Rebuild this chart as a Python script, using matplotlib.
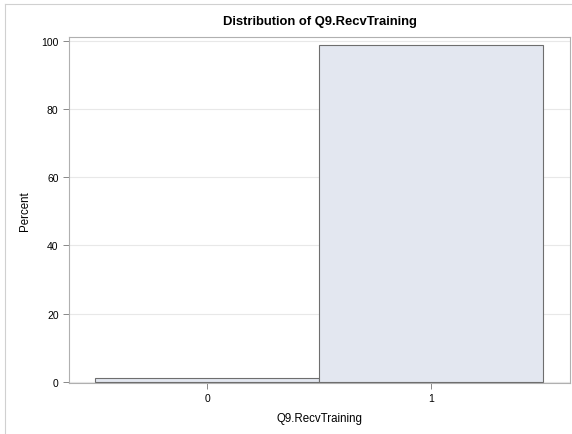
import matplotlib
matplotlib.use("Agg")
import matplotlib.pyplot as plt
from matplotlib.lines import Line2D

categories = [0, 1]
percents = [1.3, 98.7]
xticks = [0, 1]
yticks = [0, 20, 40, 60, 80, 100]

plt.rcParams['font.family'] = ['Liberation Sans', 'DejaVu Sans']

fig = plt.figure(figsize=(5.72, 4.35), dpi=100)
ax = fig.add_axes([69/572, 1-384/435, (570-69)/572, (384-38)/435])

ax.bar(categories, percents, width=1.0, color='#e3e7f0', edgecolor='#6e6e6e', linewidth=0.8, zorder=3)

ax.set_xlim(-0.616, 1.62)
ax.set_ylim(-0.3, 101.1)
ax.set_xticks(xticks)
ax.set_xticklabels([str(x) for x in xticks])
ax.set_yticks(yticks)
ax.yaxis.grid(True, color='#e8e8e8', linewidth=0.8, zorder=0)
ax.set_axisbelow(True)
for s in ax.spines.values():
    s.set_color('#b0b0b0')
    s.set_linewidth(0.8)
ax.tick_params(axis='both', colors='#888888', labelcolor='black', labelsize=7.5, length=4, width=0.7)

ax.set_xlabel('Q9.RecvTraining', fontsize=8.3, labelpad=6)
ax.set_ylabel('Percent', fontsize=8.3, labelpad=7.5)
fig.text(0.5 + 0.06, 1-22/435, 'Distribution of Q9.RecvTraining', ha='center', va='center',
         fontsize=9.4, fontweight='bold')

# outer frame
fig.add_artist(Line2D([5/572, 5/572], [0, 1-5/435], transform=fig.transFigure, color='#d0d0d0', linewidth=0.8))
fig.add_artist(Line2D([5/572, 1], [1-5/435, 1-5/435], transform=fig.transFigure, color='#d0d0d0', linewidth=0.8))

fig.savefig('out.png', dpi=100)
